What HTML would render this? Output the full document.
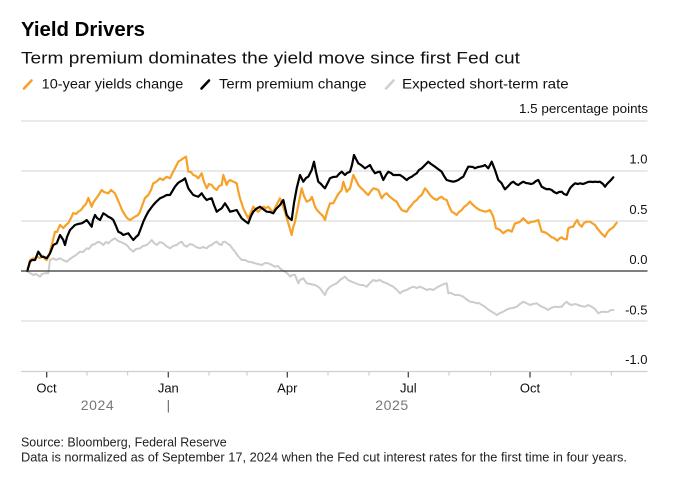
<!DOCTYPE html>
<html>
<head>
<meta charset="utf-8">
<style>
  html, body { margin:0; padding:0; background:#fff; }
  svg { display:block; }
  text { font-family: "Liberation Sans", Arial, sans-serif; }
</style>
</head>
<body>
<svg width="679" height="480" viewBox="0 0 679 480" xmlns="http://www.w3.org/2000/svg">
  <rect x="0" y="0" width="679" height="480" fill="#fff"/>

  <!-- Title & subtitle -->
  <text x="21" y="36" font-size="20.5" font-weight="bold" fill="#000" textLength="124" lengthAdjust="spacingAndGlyphs">Yield Drivers</text>
  <text x="21" y="63.3" font-size="17" fill="#111" textLength="499" lengthAdjust="spacingAndGlyphs">Term premium dominates the yield move since first Fed cut</text>

  <!-- Legend -->
  <line x1="24" y1="88.5" x2="31.5" y2="80.5" stroke="#f7a128" stroke-width="2.6" stroke-linecap="round"/>
  <text x="41.7" y="88.5" font-size="14" fill="#111" textLength="141.6" lengthAdjust="spacingAndGlyphs">10-year yields change</text>
  <line x1="201.5" y1="88.5" x2="209" y2="80.5" stroke="#000" stroke-width="2.6" stroke-linecap="round"/>
  <text x="219" y="88.5" font-size="14" fill="#111" textLength="147.5" lengthAdjust="spacingAndGlyphs">Term premium change</text>
  <line x1="386" y1="88.5" x2="393.5" y2="80.5" stroke="#cfcfcf" stroke-width="2.6" stroke-linecap="round"/>
  <text x="402" y="88.5" font-size="14" fill="#111" textLength="166.7" lengthAdjust="spacingAndGlyphs">Expected short-term rate</text>

  <!-- Units label -->
  <text x="648" y="113" font-size="13" fill="#111" text-anchor="end" textLength="129" lengthAdjust="spacingAndGlyphs">1.5 percentage points</text>

  <!-- Gridlines -->
  <g stroke="#dcdcdc" stroke-width="1.3">
    <line x1="21" y1="121" x2="647.5" y2="121"/>
    <line x1="21" y1="171" x2="647.5" y2="171"/>
    <line x1="21" y1="221" x2="647.5" y2="221"/>
    <line x1="21" y1="321" x2="647.5" y2="321"/>
  </g>
  <line x1="21" y1="371.5" x2="647.5" y2="371.5" stroke="#cfcfcf" stroke-width="1.3"/>

  <!-- Y labels -->
  <g font-size="13" fill="#111" text-anchor="end">
    <text x="647.5" y="163.5">1.0</text>
    <text x="647.5" y="213.8">0.5</text>
    <text x="647.5" y="264">0.0</text>
    <text x="647.5" y="314.5">-0.5</text>
    <text x="647.5" y="364">-1.0</text>
  </g>

  <!-- Series: gray -->
  <polyline fill="none" stroke="#cccccc" stroke-width="2" stroke-linejoin="round" stroke-linecap="round"
    points="27.3,271 30,273 33.3,275 36,274 40,276.7 42,274 45,273.3 48.3,273.3 50,260 53.3,258.3 56,260 60,258.3 63,260 66.7,261.7 70,259 73.3,256.7 76,255 80,251.7 83,252 86.7,248.3 89,249 91.7,245 95,244 98.3,241.7 101,243 103.3,245 106,242 108.3,243.3 112,240 115,238.3 118,241 120,241.7 123,243 126.7,245 130,249 133.3,251.7 136,249 140,248.3 143,246 146.7,245 149,243 151.7,240 154,243 156.7,245 160,242 163.3,243.3 166,246 170,248.3 173,246 176.7,245 179,243 181.7,241.7 184,245 186.7,246.7 190,244 193.3,245 196,247 200,248.3 203,247 206.7,248.3 209,246 211.7,245 214,243 216.7,241.7 219,244 221.7,245 223,242 225,241.7 228,244 230,245 232,248 235,251.7 238,256 241.7,260 245,260 248.3,261.7 251,262 255,263.3 258,264 261.7,265 265,263 268.3,263.3 272,265 275,266.7 278,266 280,268.3 282,270 285,271.7 288,274 290,276.7 292,275 295,275 298.3,283.3 300,280 303.3,278.3 306.7,283.3 310,284 315,285 317,286 320,288.3 322,291 325,295 327,290 330,286.7 333,285 336.7,283.3 340,280 345,276.7 348,280 351.7,281.7 355,283 360,285 363,285 366.7,286.7 370,283 373.3,280 376,281 380,280 383,282 386.7,283.3 390,285 393.3,286.7 397,290 400,293.3 403,291 406.7,290 410,288 413.3,286.7 417,288 420,286.7 423,288 426.7,290 430,289 433.3,290 436,288 438.3,286.7 441.7,285 444,284 446.7,283.3 448.3,293.3 451,293 455,295 459,295 463.3,296.7 466,299 470,301.7 473,302 476.7,303.3 479,303 481.7,305 484,306 486.7,308.3 489,310 491.7,311.7 494,313 496.7,315 500,313 503.3,311.7 506,310 510,308.3 513,308 516.7,306.7 520,304 523.3,301.7 526,303 530,305 533,304 536.7,303.3 539,305 541.7,306.7 545,308 548.3,310 551,308 555,306.7 558,307 561.7,306.7 564,304 566.7,301.7 569,304 571.7,305 575,304 578.3,305 581,306 585,306.7 588,305 591.7,306.7 595,309 598.3,313.3 601,312 603.3,311.7 606,312 608.3,311.7 611,310 613.3,310"/>

  <!-- Series: orange -->
  <polyline fill="none" stroke="#f7a128" stroke-width="2.2" stroke-linejoin="round" stroke-linecap="round"
    points="27.3,271 30,260 33.3,258.3 35,260 36.7,256.7 40,258 43,256 45,259 46.7,260 49.3,255 51.7,245 53,240 55,231.7 57,232 60,225 63.3,228 66,225 68.3,223 71,218 73.3,213 76,214 78.3,211.7 81,210 83.3,206.7 86,204 88.3,198 91.7,206.7 93,203 95,200 98,196 101.7,190 104,192 108.3,193.3 111,190 115,193.3 117,198 120,205 122,210 125,215 127,218 130,220 133,218 135,216.7 138,215 140,211.7 142,206 145,198 148.3,195 151,190 153.3,183.3 156,182 160,178.3 163,180 166.7,176.7 170,178.3 173,172 175,168.3 178.3,161.7 181,160 183.3,158.3 186,156.7 188.3,171.7 191,172 193.3,175 196,176 198.3,178.3 201.7,173.3 204,182 206.7,188.3 209,184 211.7,185 214,188 216.7,190 219,186 221.7,185 223.3,175 226.7,185 228,182 230,180 233.3,181.7 236.7,183.3 238,190 240,198.3 243.3,208.3 246,214 248.3,218.3 251,212 253.3,206.7 256,210 258.3,211.7 261,209 263.3,206.7 266,208 268.3,206.7 271,210 273.3,211.7 276,206 280,198.3 283,206 285,211.7 288.3,223.3 291.7,235 293,228 295,221.7 298.3,205 301.7,188.3 304,196 306.7,201.7 310,200 312,197 315,206.7 317,210 320,213.3 323,216 325,220 327,212 330,203.3 333.3,203.3 336.7,196.7 339,193 341.7,190 343.3,181.7 346.7,191.7 350,188.3 353.3,175 356,180 358.3,185 361,188 363.3,190 366,193 368.3,195 371,191 373.3,188.3 376,189 378.3,190 381.7,198.3 384,195 386.7,193.3 389,196 391.7,198.3 394,200 396.7,201.7 399,206 401.7,210 404,211 406.7,211.7 409,208 411.7,205 414,202 416.7,200 419,197 421.7,195 425,188.3 428,192 430,195 433,198 436.7,200 439,198 441.7,196.7 444,199 446.7,200 449,206 451.7,211.7 454,213 456.7,215 459,212 461.7,210 464,207 466.7,205 470,201.7 472,204 475,206.7 478,209 480,210 483,211 485,211.7 488,211 490,210 493.3,216.7 496,228.3 498,229 500,230 503.3,233.3 506,231 508.3,230 511.7,231.7 515,223.3 517,223 520,221.7 523.3,218.3 526,221 528.3,223.3 531,222 533.3,221.7 536,221 538.3,220 541.7,231.7 544,232 546.7,233.3 549,235 551.7,237.3 554,238 557.3,240.7 560,238 561.7,237.3 564,239 566.7,239.3 568.3,228.3 571,227 573.3,226.7 575,223 577.3,220 579,224 581.7,226.7 584,223 586.7,221.7 590,221.7 592,223 595,225 597,228 600,231.7 602,234 605,236.7 607,233 609.3,230 611,229 613.3,227.3 615,225 616.7,222.7"/>

  <!-- Series: black -->
  <polyline fill="none" stroke="#000" stroke-width="2.2" stroke-linejoin="round" stroke-linecap="round"
    points="27.3,271 30,261.7 32,260 35,260 38.3,251.7 41.7,256.7 44,257 46.7,258.3 50,253.3 53.3,245 56.7,243.3 60,235 63.3,240 65,245 67,237 70,230 72,228 75,225 78,224 81.7,223.3 84,222 86.7,220 89,223 91.7,226.7 93,220 95,215 97,218 100,220 103.3,213.3 106,215 108.3,216.7 111,218 113.3,220 116,226 118.3,231.7 121,233 123.3,235 126,234 128.3,233.3 131,237 133.3,240 136,237 138.3,235 141,228 143.3,221.7 146,216 148.3,211.7 151,208 153.3,205 156,202 160,198.3 163,197 166.7,195 170,195 173,190 175,186.7 178,183 180,181.7 183,180 185,178.3 188.3,188.3 191,192 193.3,195 196,196 198.3,196.7 201.7,193.3 204,197 206.7,200 209,199 211.7,198.3 214,205 216.7,211.7 219,210 221.7,208.3 225,203.3 228,208 230,211.7 233,211 236.7,210 239,214 241.7,218.3 245,221 248.3,223.3 251,216 253.3,211.7 256,209 260,206.7 263,209 266.7,211.7 270,212 273.3,213.3 276,209 280,205 283.3,200 286.7,215 289,218 291.7,220 294,203 296.7,188.3 300,175 303.3,181.7 306,178 308.3,176.7 311.7,170 314,161.7 316,172 318.3,181.7 321,184 323.3,186.7 325,188.3 328.3,181.7 330,178.3 333,177 336.7,176.7 339,174 341.7,171.7 345,175 347,173 350,171.7 352,165 354,155 356,159 358.3,163.3 361,165 365,168.3 367,167 370,165 372,169 375,173.3 378,172 380,171.7 383.3,180 386,175 388.3,171.7 391,173 393.3,175 397,175 400,175 403,177 406.7,180 409,178 411.7,176.7 414,175 416.7,173.3 419,170 421.7,168.3 425,165 428.3,161.7 431,164 435,166.7 438,169 441.7,171.7 444,176 446.7,180 450,181 453.3,181.7 456,181 458.3,180 461,178 463.3,176.7 466,171 468.3,166.7 470,166.7 473,167 475,168.3 478,167 480,166.7 483,166 485,165 488.3,168.3 491.7,161.7 495,170 498.3,180 501.7,183.3 503,186 505,189.3 508.3,186 511,183 513.3,181.7 516,184 518.3,185 521,183 523.3,181.7 526,183 528.3,183.3 531,184 533.3,183.3 536,181 538.3,180 541.7,186.7 544,188 546.7,189.3 549,189 551.7,190 554,192 556.7,193.3 559,192 561.7,191.7 564,194 566.7,195 570,188.3 572,186 575,183.3 578,184 580,183.3 583,184 585,183.3 588,182 590,181.7 593,182 595,181.7 598,182 600,181.7 603,184 605,186.7 607,184 609.3,181.7 611,180 613.3,177.3"/>

  <!-- Zero line -->
  <line x1="21" y1="271" x2="647.5" y2="271" stroke="#333" stroke-width="1.3"/>

  <!-- X ticks -->
  <g stroke="#444" stroke-width="1.3">
    <line x1="46.7" y1="372" x2="46.7" y2="377.5"/>
    <line x1="168.3" y1="372" x2="168.3" y2="377.5"/>
    <line x1="287.3" y1="372" x2="287.3" y2="377.5"/>
    <line x1="408.3" y1="372" x2="408.3" y2="377.5"/>
    <line x1="530" y1="372" x2="530" y2="377.5"/>
  </g>
  <g stroke="#c4c4c4" stroke-width="1">
    <line x1="87" y1="372" x2="87" y2="375.5"/>
    <line x1="127.7" y1="372" x2="127.7" y2="375.5"/>
    <line x1="209" y1="372" x2="209" y2="375.5"/>
    <line x1="247" y1="372" x2="247" y2="375.5"/>
    <line x1="328" y1="372" x2="328" y2="375.5"/>
    <line x1="369" y1="372" x2="369" y2="375.5"/>
    <line x1="449" y1="372" x2="449" y2="375.5"/>
    <line x1="490.7" y1="372" x2="490.7" y2="375.5"/>
    <line x1="571" y1="372" x2="571" y2="375.5"/>
    <line x1="611.3" y1="372" x2="611.3" y2="375.5"/>
  </g>

  <!-- X labels -->
  <g font-size="13" fill="#111" text-anchor="middle">
    <text x="46.5" y="392.7">Oct</text>
    <text x="168.3" y="392.7">Jan</text>
    <text x="287.3" y="392.7">Apr</text>
    <text x="408.3" y="392.7">Jul</text>
    <text x="530" y="392.7">Oct</text>
  </g>
  <g font-size="14" fill="#777" text-anchor="middle" letter-spacing="0.6">
    <text x="97.5" y="410">2024</text>
    <text x="392" y="410">2025</text>
  </g>
  <line x1="168.3" y1="400" x2="168.3" y2="412.5" stroke="#555" stroke-width="1"/>

  <!-- Source -->
  <text x="21" y="446.7" font-size="12.5" fill="#222" textLength="205.7" lengthAdjust="spacingAndGlyphs">Source: Bloomberg, Federal Reserve</text>
  <text x="21" y="461.7" font-size="12.5" fill="#222" textLength="606" lengthAdjust="spacingAndGlyphs">Data is normalized as of September 17, 2024 when the Fed cut interest rates for the first time in four years.</text>
</svg>
</body>
</html>
